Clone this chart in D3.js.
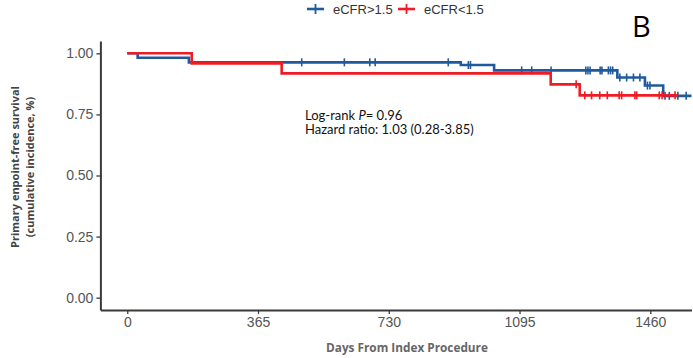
<!DOCTYPE html>
<html>
<head>
<meta charset="utf-8">
<script src="https://cdn.jsdelivr.net/npm/d3@7"></script>
<style>
  html, body { margin: 0; padding: 0; background: #fff; }
  svg { display: block; }
</style>
</head>
<body>
<svg id="chart" width="693" height="358"></svg>
<script>
// Kaplan–Meier steps: [day, survival] at each event
const seriesNames = ["eCFR>1.5", "eCFR<1.5"];
const seriesColors = ["#1f5a9e", "#ee1c25"];
const stepsHigh = [[0, 1.0], [29, 0.982], [172, 0.963], [931, 0.952], [1024, 0.930], [1368, 0.901], [1445, 0.868], [1496, 0.826]];
const stepsLow = [[0, 1.0], [180, 0.959], [431, 0.918], [1182, 0.873], [1263, 0.828]];
const endHigh = 1575;
const endLow = 1538;
// censored observation times
const censorHigh = [487, 606, 677, 692, 896, 952, 958, 1101, 1129, 1183, 1280, 1286, 1292, 1320, 1325, 1343, 1349, 1355, 1375, 1394, 1413, 1431, 1452, 1459, 1501, 1513, 1537, 1560];
const censorLow = [1253, 1277, 1296, 1319, 1340, 1373, 1380, 1417, 1422, 1485, 1493, 1529];
const xTicks = [0, 365, 730, 1095, 1460];
const yTicks = [0, 0.25, 0.5, 0.75, 1.0];

const svg = d3.select("#chart");
const x = d3.scaleLinear().domain([-75, 1575]).range([100.4, 691.5]);
const y = d3.scaleLinear().domain([-0.05, 1.05]).range([309.9, 41.1]);

// axes
const xAxis = svg.append("g").attr("transform", `translate(0,${y(-0.05)})`)
  .call(d3.axisBottom(x).tickValues(xTicks).tickFormat(d3.format("d")).tickSize(4).tickSizeOuter(0).tickPadding(3));
const yAxis = svg.append("g").attr("transform", `translate(${x(-75)},0)`)
  .call(d3.axisLeft(y).tickValues(yTicks).tickFormat(d3.format(".2f")).tickSize(4).tickSizeOuter(0).tickPadding(3));
[xAxis, yAxis].forEach(g => {
  g.select(".domain").attr("stroke", "#3a3a3a").attr("stroke-width", 2);
  g.selectAll(".tick line").attr("stroke", "#3a3a3a").attr("stroke-width", 1.3);
  g.selectAll(".tick text").attr("fill", "#555").attr("font-family", "Liberation Sans, Arial, sans-serif").attr("font-size", 14);
});

// survival curves
function stepPoints(steps, end) {
  const pts = [];
  steps.forEach((s, i) => {
    if (i > 0) pts.push([s[0], steps[i - 1][1]]);
    pts.push(s);
  });
  pts.push([end, steps[steps.length - 1][1]]);
  return pts;
}
function survAt(steps, t) {
  let v = steps[0][1];
  steps.forEach(s => { if (s[0] <= t) v = s[1]; });
  return v;
}
const line = d3.line().x(d => x(d[0])).y(d => y(d[1]));
const groups = [
  { steps: stepsHigh, end: endHigh, censor: censorHigh, color: seriesColors[0] },
  { steps: stepsLow, end: endLow, censor: censorLow, color: seriesColors[1] }
];
groups.forEach(g => {
  const gg = svg.append("g");
  gg.append("path").attr("d", line(stepPoints(g.steps, g.end)))
    .attr("fill", "none").attr("stroke", g.color).attr("stroke-width", 2.6);
  gg.selectAll("line.c").data(g.censor).enter().append("line")
    .attr("x1", d => x(d)).attr("x2", d => x(d))
    .attr("y1", d => y(survAt(g.steps, d)) - 4).attr("y2", d => y(survAt(g.steps, d)) + 4)
    .attr("stroke", g.color).attr("stroke-width", 1.6);
});

// legend
const legendX = [307, 398];
seriesNames.forEach((name, i) => {
  const lg = svg.append("g").attr("transform", `translate(${legendX[i]},9)`);
  lg.append("line").attr("x1", 0).attr("x2", 17).attr("y1", 0).attr("y2", 0)
    .attr("stroke", seriesColors[i]).attr("stroke-width", 2.6);
  lg.append("line").attr("x1", 8.5).attr("x2", 8.5).attr("y1", -5).attr("y2", 5)
    .attr("stroke", seriesColors[i]).attr("stroke-width", 1.8);
  lg.append("text").attr("x", 26).attr("y", 4.5).text(name)
    .attr("font-family", "Liberation Sans, Arial, sans-serif").attr("font-size", 13).attr("fill", "#333");
});

// panel letter
svg.append("text").attr("x", 632).attr("y", 37).text("B")
  .attr("font-family", "Open Sans, sans-serif").attr("font-size", 29).attr("fill", "#000");

// annotation
const ann = svg.append("g").attr("font-family", "Lato, sans-serif").attr("font-size", 13).attr("fill", "#111");
const t1 = ann.append("text").attr("x", 305).attr("y", 119.5);
t1.append("tspan").text("Log-rank ");
t1.append("tspan").attr("font-style", "italic").text("P");
t1.append("tspan").text("= 0.96");
ann.append("text").attr("x", 305).attr("y", 134).text("Hazard ratio: 1.03 (0.28-3.85)");

// axis titles
svg.append("text").attr("x", 407).attr("y", 352).attr("text-anchor", "middle")
  .attr("font-family", "Open Sans, sans-serif").attr("font-weight", "bold").attr("font-size", 11.8)
  .attr("fill", "#666").text("Days From Index Procedure");
const yt = svg.append("g").attr("transform", "translate(0,167) rotate(-90)")
  .attr("font-family", "Open Sans, sans-serif").attr("font-weight", "bold").attr("font-size", 11)
  .attr("fill", "#444").attr("text-anchor", "middle");
yt.append("text").attr("x", 0).attr("y", 19).text("Primary enpoint-free survival");
yt.append("text").attr("x", 0).attr("y", 34).text("(cumulative incidence, %)");
</script>
</body>
</html>
